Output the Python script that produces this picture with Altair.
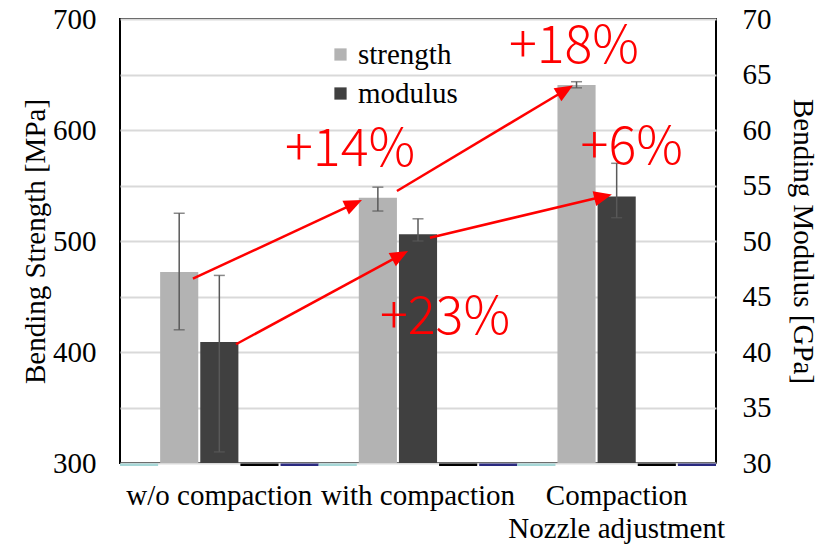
import math
import altair as alt
import pandas as pd

# ---------------- data ----------------
categories = ["w/o compaction", "with compaction", "Compaction\nNozzle adjustment"]
strength = [472, 539, 640.5]          # MPa
strength_lo = [420, 527, 638]
strength_hi = [525, 548.5, 643.5]
modulus = [40.9, 50.6, 54.0]          # GPa
modulus_lo = [31.0, 50.0, 52.1]
modulus_hi = [46.9, 52.0, 57.0]

series_order = ["s0", "strength", "modulus", "s3", "s4"]
zero_series = ["s0", "s3", "s4"]
zero_colors = ["#a6d7d7", "#000000", "#2a2a80"]

# annotation arrows (x in category units 0..3, y in MPa units)
arrow_x0 = [0.367, 0.584, 1.394, 1.56]
arrow_y0 = [466, 407, 545, 503]
arrow_x1 = [1.218, 1.45, 2.28, 2.476]
arrow_y1 = [537, 491, 640, 542]
label_text = ["+14%", "+18%", "+6%", "+23%"]
label_x = [1.158, 2.285, 2.576, 1.636]
label_y = [582, 675, 584, 431]

# ---------------- layout constants ----------------
W, H = 596, 444
YMIN, YMAX = 300, 700
SERIF = "Liberation Serif"
FS = 29
HEAD = 18  # arrow head length px

pxx = W / 3.0
pxy = H / (YMAX - YMIN)

rows = []
for i, c in enumerate(categories):
    rows.append(dict(cat=c, series="strength", v=strength[i], lo=strength_lo[i], hi=strength_hi[i], base=YMIN))
    rows.append(dict(cat=c, series="modulus", v=modulus[i] * 10, lo=modulus_lo[i] * 10, hi=modulus_hi[i] * 10, base=YMIN))
main = pd.DataFrame(rows)

zrows = []
for c in categories:
    for s, col in zip(zero_series, zero_colors):
        zrows.append(dict(cat=c, series=s, v=YMIN - 0.4, v2=YMIN - 2.6, col=col))
zdf = pd.DataFrame(zrows)

arows = []
for x0, y0, x1, y1 in zip(arrow_x0, arrow_y0, arrow_x1, arrow_y1):
    dxp = (x1 - x0) * pxx
    dyp = -(y1 - y0) * pxy
    L = math.hypot(dxp, dyp)
    ux, uy = dxp / L, dyp / L
    ang = math.degrees(math.atan2(dxp, -dyp)) % 360
    ex = x1 - ux * HEAD * 0.8 / pxx
    ey = y1 + uy * HEAD * 0.8 / pxy
    arows.append(dict(x0=x0, y0=y0, ex=ex, ey=ey, x1=x1, y1=y1, ang=ang))
adf = pd.DataFrame(arows)
ldf = pd.DataFrame(dict(t=label_text, x=label_x, y=label_y))

xs = alt.Scale(domain=categories, paddingInner=0, paddingOuter=0)
xo = alt.Scale(domain=series_order, paddingInner=0.05, paddingOuter=0)
ys = alt.Scale(domain=[YMIN, YMAX], nice=False, zero=False)
xq = alt.Scale(domain=[0, 3], nice=False, zero=False)

xaxis = alt.Axis(title=None, labelExpr="split(datum.label, '\\n')", labelAngle=0,
                 labelFont=SERIF, labelFontSize=FS, labelColor="black", labelPadding=18,
                 labelLineHeight=33, labelOverlap=False, labelBound=False, labelLimit=0,
                 domain=False, ticks=False, grid=False)
yaxis = alt.Axis(values=list(range(300, 701, 50)),
                 labelExpr="datum.value % 100 == 0 ? datum.label : ''",
                 grid=True, gridColor="#d9d9d9", gridWidth=2, domain=False, ticks=False,
                 labelFont=SERIF, labelFontSize=FS, labelColor="black", labelPadding=24,
                 title="Bending Strength [MPa]", titleFont=SERIF, titleFontSize=FS,
                 titleFontWeight="normal", titleColor="black", titlePadding=2)

bars = alt.Chart(main).mark_bar().encode(
    x=alt.X("cat:N", sort=categories, scale=xs, axis=xaxis),
    xOffset=alt.XOffset("series:N", scale=xo),
    y=alt.Y("v:Q", scale=ys, axis=yaxis),
    y2="base:Q",
    color=alt.Color("series:N",
                    scale=alt.Scale(domain=["strength", "modulus"], range=["#b3b3b3", "#404040"]),
                    legend=alt.Legend(orient="none", legendX=206, legendY=21, title=None,
                                      symbolType="square", symbolSize=150, symbolStrokeWidth=0,
                                      labelFont=SERIF, labelFontSize=FS, labelColor="black",
                                      labelOffset=3, rowPadding=9, padding=0)),
)

zbars = alt.Chart(zdf).mark_bar().encode(
    x=alt.X("cat:N", sort=categories, scale=xs, axis=None),
    xOffset=alt.XOffset("series:N", scale=xo),
    y=alt.Y("v:Q", scale=ys, axis=None),
    y2="v2:Q",
    color=alt.Color("col:N", scale=None),
)

err = alt.Chart(main).mark_rule(color="#595959", strokeWidth=1.5).encode(
    x=alt.X("cat:N", sort=categories, scale=xs, axis=None),
    xOffset=alt.XOffset("series:N", scale=xo),
    y=alt.Y("lo:Q", scale=ys, axis=None),
    y2="hi:Q",
)
cap_lo = alt.Chart(main).mark_tick(color="#595959", size=11, thickness=1.5).encode(
    x=alt.X("cat:N", sort=categories, scale=xs, axis=None),
    xOffset=alt.XOffset("series:N", scale=xo),
    y=alt.Y("lo:Q", scale=ys, axis=None),
)
cap_hi = alt.Chart(main).mark_tick(color="#595959", size=11, thickness=1.5).encode(
    x=alt.X("cat:N", sort=categories, scale=xs, axis=None),
    xOffset=alt.XOffset("series:N", scale=xo),
    y=alt.Y("hi:Q", scale=ys, axis=None),
)

lines = alt.Chart(adf).mark_rule(color="#ff0000", strokeWidth=2.5).encode(
    x=alt.X("x0:Q", scale=xq, axis=None),
    x2="ex:Q",
    y=alt.Y("y0:Q", scale=ys, axis=None),
    y2="ey:Q",
)
heads = alt.Chart(adf).mark_point(shape="M0,0L-0.42,1L0.42,1Z", filled=True, color="#ff0000",
                                  size=(2 * HEAD) ** 2, opacity=1, strokeWidth=0).encode(
    x=alt.X("x1:Q", scale=xq, axis=None),
    y=alt.Y("y1:Q", scale=ys, axis=None),
    angle=alt.Angle("ang:Q", scale=None),
)
labels = alt.Chart(ldf).mark_text(font="Noto Sans CJK JP", fontSize=52, fontWeight=300,
                                  color="#ff0000").encode(
    x=alt.X("x:Q", scale=xq, axis=None),
    y=alt.Y("y:Q", scale=ys, axis=None),
    text="t:N",
)

right = alt.Chart(pd.DataFrame({"g": [30, 70]})).mark_point(opacity=0).encode(
    y=alt.Y("g:Q", scale=alt.Scale(domain=[30, 70], nice=False, zero=False),
            axis=alt.Axis(orient="right", values=list(range(30, 71, 5)), grid=False,
                          domain=False, ticks=False, labelFont=SERIF, labelFontSize=FS,
                          labelColor="black", labelPadding=26,
                          title="Bending Modulus [GPa]", titleFont=SERIF, titleFontSize=FS,
                          titleFontWeight="normal", titleColor="black", titlePadding=16)),
)

chart = alt.layer(bars, zbars, err, cap_lo, cap_hi, lines, heads, labels, right).resolve_scale(
    x="independent", y="independent"
).properties(
    width=W, height=H,
    autosize=alt.AutoSizeParams(type="none"),
    padding={"left": 112, "top": 11, "right": 105, "bottom": 83},
    background="white",
).configure_view(stroke="black", strokeWidth=2)

chart.save("out.html", embed_options={"renderer": "svg", "actions": False})
